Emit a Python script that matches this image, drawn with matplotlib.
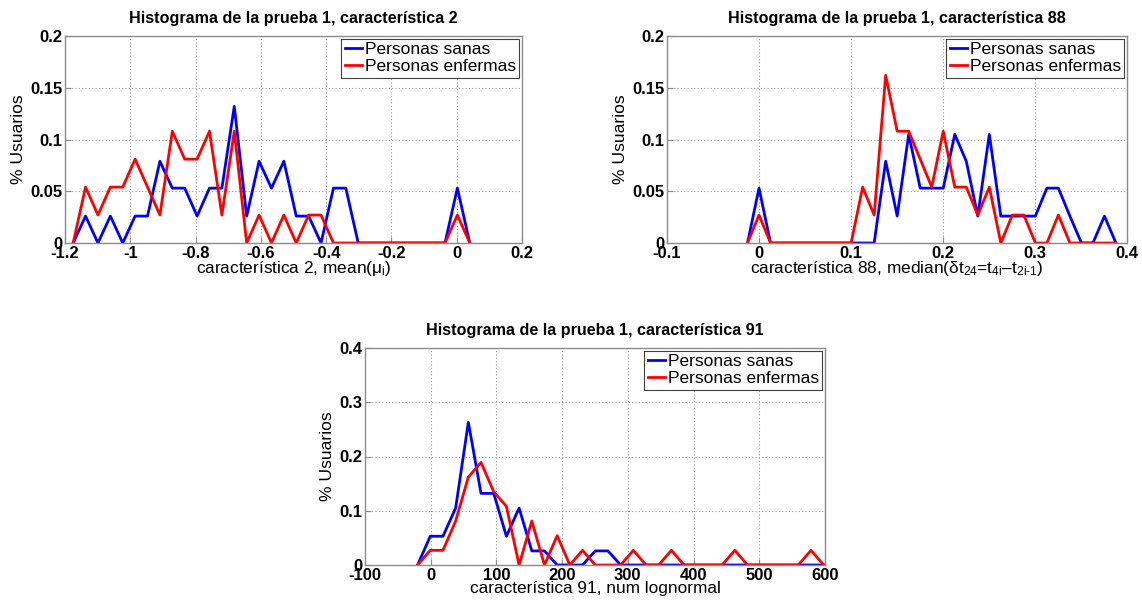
import numpy as np
import matplotlib
matplotlib.use("Agg")
import matplotlib.pyplot as plt
from matplotlib.ticker import FormatStrFormatter

plt.rcParams['font.family'] = ['Liberation Sans', 'DejaVu Sans']
plt.rcParams['mathtext.fontset'] = 'custom'
plt.rcParams['mathtext.rm'] = 'Liberation Sans'
plt.rcParams['mathtext.it'] = 'Liberation Sans'
plt.rcParams['mathtext.default'] = 'regular'

# Bin centres of each histogram
bins_c2 = np.linspace(-1.175, 0.04, 33)
bins_c88 = np.linspace(-0.0125, 0.388, 33)
bins_c91 = np.linspace(-20, 598, 33)

# Fraction of users per bin: healthy (sanas) and ill (enfermas)
sanas_c2 = [0, .026, 0, .026, 0, .026, .026, .079, .053, .053, .026, .053, .053,
            .132, .026, .079, .053, .079, .026, .026, 0, .053, .053,
            0, 0, 0, 0, 0, 0, 0, 0, .053, 0]
enfermas_c2 = [0, .054, .027, .054, .054, .081, .054, .027, .108, .081, .081,
               .108, .027, .108, 0, .027, 0, .027, 0, .027, .027,
               0, 0, 0, 0, 0, 0, 0, 0, 0, 0, .027, 0]

sanas_c88 = [0, .053, 0, 0, 0, 0, 0, 0, 0, 0, 0, 0,
             .079, .026, .105, .053, .053, .053, .105, .079, .026, .105,
             .026, .026, .026, .026, .053, .053, .026, 0, 0, .026, 0]
enfermas_c88 = [0, .027, 0, 0, 0, 0, 0, 0, 0, 0,
                .054, .027, .162, .108, .108, .081, .054, .108, .054, .054,
                .027, .054, 0, .027, .027, 0, 0, .027, 0, 0, 0, 0, 0]

sanas_c91 = [0, .053, .053, .105, .263, .132, .132, .053, .105, .026, .026,
             0, 0, 0, .026, .026, 0, 0, 0, 0, 0, 0, 0, 0, 0, 0, 0, 0, 0, 0,
             0, 0, 0]
enfermas_c91 = [0, .027, .027, .081, .162, .189, .135, .108, 0, .081, 0, .054,
                0, .027, 0, 0, 0, .027, 0, 0, .027, 0, 0, 0, 0, .027, 0, 0,
                0, 0, 0, .027, 0]

titles = ["Histograma de la prueba 1, característica 2",
          "Histograma de la prueba 1, característica 88",
          "Histograma de la prueba 1, característica 91"]
xlabels = [r"característica 2, mean($\mu_i$)",
           r"característica 88, median($\delta t_{24}$=$t_{4i}$–$t_{2i\mathrm{\text{-}}1}$)",
           "característica 91, num lognormal"]
xlims = [(-1.2, 0.2), (-0.1, 0.4), (-100, 600)]
xticks = [[-1.2, -1, -0.8, -0.6, -0.4, -0.2, 0, 0.2],
          [-0.1, 0, 0.1, 0.2, 0.3, 0.4],
          [-100, 0, 100, 200, 300, 400, 500, 600]]
ylims = [(0, 0.2), (0, 0.2), (0, 0.4)]
yticks = [[0, 0.05, 0.1, 0.15, 0.2], [0, 0.05, 0.1, 0.15, 0.2],
          [0, 0.1, 0.2, 0.3, 0.4]]
labels = ["Personas sanas", "Personas enfermas"]

W, H = 1142, 608
fig = plt.figure(figsize=(W / 100, H / 100), dpi=100)
rects_px = [(65, 36, 522, 243), (667, 36, 1127, 243), (365, 348, 825, 565)]

series = [(bins_c2, sanas_c2, enfermas_c2),
          (bins_c88, sanas_c88, enfermas_c88),
          (bins_c91, sanas_c91, enfermas_c91)]

frame_col = '#8c8c8c'
for k, (l, t, r, b) in enumerate(rects_px):
    ax = fig.add_axes([l / W, 1 - b / H, (r - l) / W, (b - t) / H])
    x, s, e = series[k]
    ax.plot(x, s, color=(0, 0, 1), lw=2.0, label=labels[0])
    ax.plot(x, e, color=(1, 0, 0), lw=2.0, label=labels[1])
    ax.set_xlim(*xlims[k])
    ax.set_ylim(*ylims[k])
    ax.set_xticks(xticks[k])
    ax.set_yticks(yticks[k])
    ax.xaxis.set_major_formatter(FormatStrFormatter('%g'))
    ax.yaxis.set_major_formatter(FormatStrFormatter('%g'))
    ax.grid(True, linestyle=(0, (1, 2)), color='#9a9a9a', lw=0.8)
    ax.set_axisbelow(True)
    for sp in ax.spines.values():
        sp.set_color(frame_col)
        sp.set_linewidth(1.0)
    ax.tick_params(direction='in', length=4, color=frame_col, width=0.8,
                   labelsize=12, pad=2)
    for lab in ax.get_xticklabels() + ax.get_yticklabels():
        lab.set_fontweight('bold')
    ax.set_title(titles[k], fontsize=11.6, fontweight='bold', pad=9)
    ax.set_xlabel(xlabels[k], fontsize=12.4, labelpad=-1)
    ax.set_ylabel("% Usuarios", fontsize=12.6, labelpad=3)
    leg = ax.legend(loc='upper right', fontsize=12.5, handlelength=1.0,
                    handletextpad=0.15, borderpad=0.2, labelspacing=0.12,
                    borderaxespad=0.15, fancybox=False, framealpha=1)
    leg.get_frame().set_edgecolor('#404040')
    leg.get_frame().set_linewidth(0.8)

fig.savefig("out.png", dpi=100)
